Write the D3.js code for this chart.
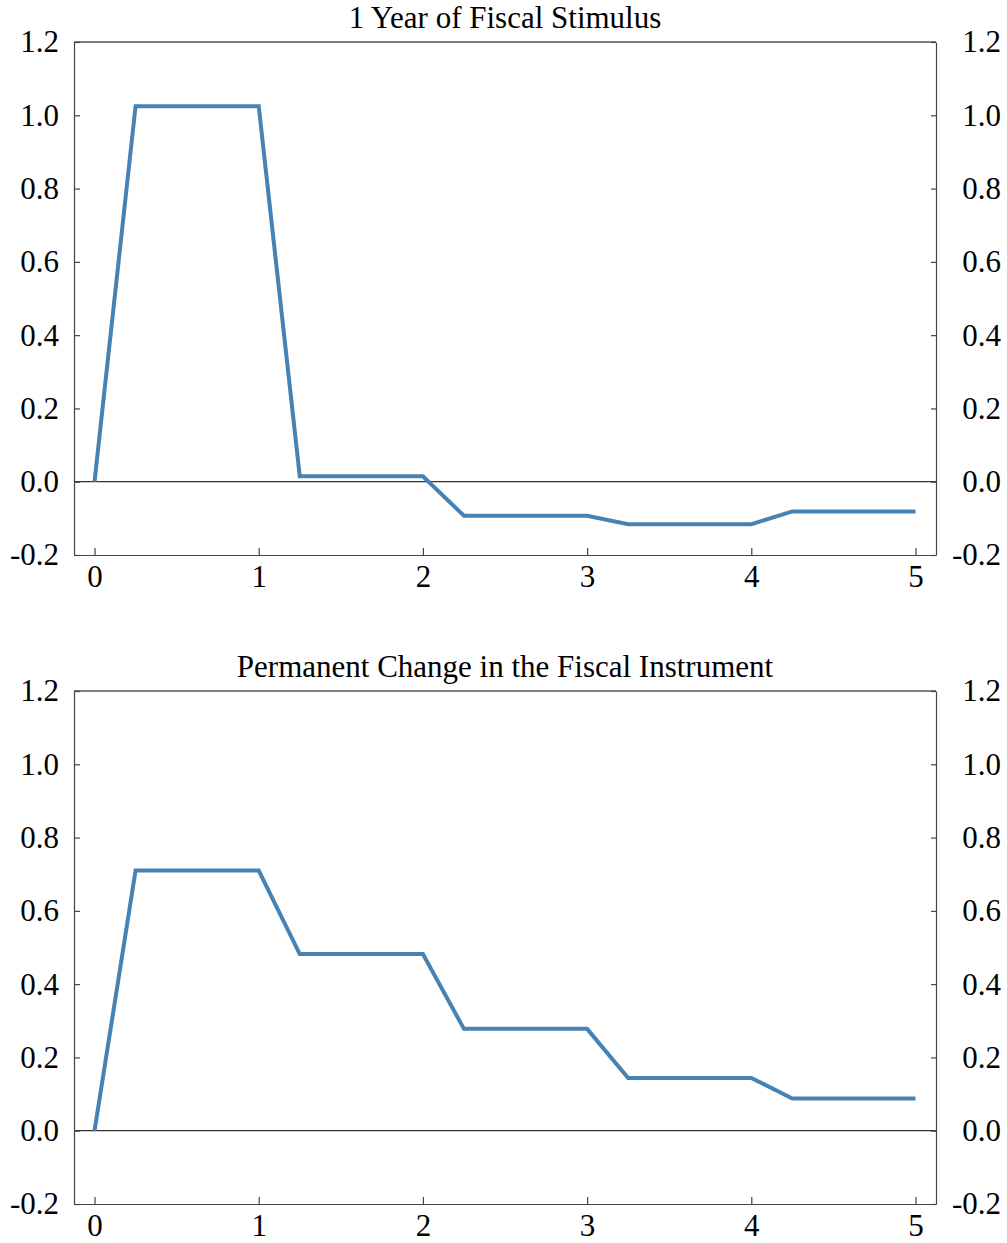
<!DOCTYPE html>
<html>
<head>
<meta charset="utf-8">
<script src="https://cdn.jsdelivr.net/npm/d3@7"></script>
<style>
  html, body { margin: 0; padding: 0; background: #fff; }
  svg { display: block; }
  text { font-family: "Liberation Serif", "Times New Roman", serif; fill: #000; }
</style>
</head>
<body>
<svg id="chart" width="1007" height="1243"></svg>
<script>
// Horizon in years (quarterly steps)
const years = [0, 0.25, 0.5, 0.75, 1, 1.25, 1.5, 1.75, 2, 2.25, 2.5, 2.75, 3,
               3.25, 3.5, 3.75, 4, 4.25, 4.5, 4.75, 5];

// Response to one year of fiscal stimulus
const oneYearStimulus = [0, 1.025, 1.025, 1.025, 1.025, 0.015, 0.015, 0.015, 0.015,
                         -0.093, -0.093, -0.093, -0.093, -0.116, -0.116, -0.116, -0.116,
                         -0.081, -0.081, -0.081, -0.081];

// Response to a permanent change in the fiscal instrument
const permanentChange = [0, 0.71, 0.71, 0.71, 0.71, 0.482, 0.482, 0.482, 0.482,
                         0.278, 0.278, 0.278, 0.278, 0.144, 0.144, 0.144, 0.144,
                         0.088, 0.088, 0.088, 0.088];

const panelTitles = ["1 Year of Fiscal Stimulus", "Permanent Change in the Fiscal Instrument"];
const xTickValues = [0, 1, 2, 3, 4, 5];
const yTickValues = [-0.2, 0, 0.2, 0.4, 0.6, 0.8, 1.0, 1.2];

const svg = d3.select("#chart");

const left = 74, right = 936, plotH = 513;
const panelTops = [42, 691];
const panels = [oneYearStimulus, permanentChange];
const labelSize = 31;

const x = d3.scaleLinear().domain([-0.125, 5.125]).range([left, right]);

// one decimal, plain hyphen for negatives
const fmt = d => d3.format(".1f")(d).replace("\u2212", "-");

panels.forEach((series, i) => {
  const top = panelTops[i];
  const y = d3.scaleLinear().domain([-0.2, 1.2]).range([top + plotH, top]);
  const g = svg.append("g");

  // title
  g.append("text")
    .attr("x", (left + right) / 2)
    .attr("y", top - 14)
    .attr("text-anchor", "middle")
    .attr("font-size", 31)
    .text(panelTitles[i]);

  // zero line
  g.append("line")
    .attr("x1", left).attr("x2", right)
    .attr("y1", y(0)).attr("y2", y(0))
    .attr("stroke", "#000").attr("stroke-width", 1);

  // top frame line
  g.append("line")
    .attr("x1", left).attr("x2", right)
    .attr("y1", top).attr("y2", top)
    .attr("stroke", "#000").attr("stroke-width", 1);

  // left axis (ticks point inward)
  const yl = g.append("g")
    .attr("transform", `translate(${left},0)`)
    .call(d3.axisLeft(y).tickValues(yTickValues).tickFormat(fmt).tickSize(-6).tickSizeOuter(0).tickPadding(15));

  // right axis (ticks point inward), labels right-aligned near the edge
  const yr = g.append("g")
    .attr("transform", `translate(${right},0)`)
    .call(d3.axisRight(y).tickValues(yTickValues).tickFormat(fmt).tickSize(-5).tickSizeOuter(0));

  // bottom axis (ticks point inward)
  const xb = g.append("g")
    .attr("transform", `translate(0,${top + plotH})`)
    .call(d3.axisBottom(x).tickValues(xTickValues).tickFormat(d3.format("d")).tickSize(-7).tickSizeOuter(0).tickPadding(10));

  [yl, yr, xb].forEach(ax => {
    ax.select(".domain").attr("stroke", "#444").attr("stroke-width", 1.2);
    ax.selectAll(".tick line").attr("stroke", "#444").attr("stroke-width", 1.2);
    ax.selectAll(".tick text")
      .attr("font-family", "'Liberation Serif', 'Times New Roman', serif")
      .attr("font-size", labelSize)
      .attr("fill", "#000");
  });
  xb.selectAll(".tick text").attr("dy", "0.71em");
  yl.selectAll(".tick text").attr("dy", "0.32em");
  yr.selectAll(".tick text").attr("dy", "0.32em")
    .attr("x", 1001 - right)
    .attr("text-anchor", "end");

  // response line
  const line = d3.line()
    .x((d, k) => x(years[k]))
    .y(d => y(d));

  g.append("path")
    .datum(series)
    .attr("d", line)
    .attr("fill", "none")
    .attr("stroke", "#4682b4")
    .attr("stroke-width", 4)
    .attr("stroke-linejoin", "miter");
});
</script>
</body>
</html>
